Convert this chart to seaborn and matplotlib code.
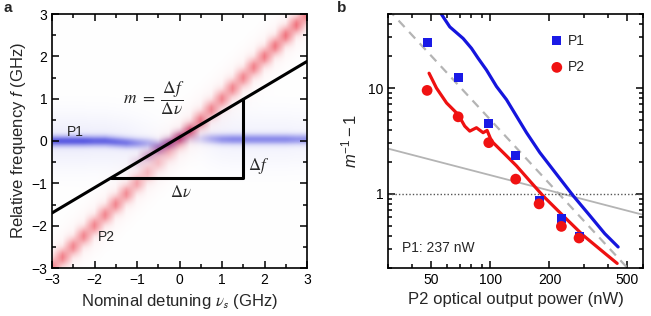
import numpy as np
import pandas as pd
import matplotlib
matplotlib.use('Agg')
import matplotlib.pyplot as plt
import seaborn as sns
from matplotlib.ticker import NullFormatter, FixedLocator, FuncFormatter

sns.set_theme(style='ticks')
plt.rcParams['font.family'] = ['Liberation Sans', 'DejaVu Sans']
plt.rcParams['font.size'] = 10
plt.rcParams['axes.linewidth'] = 1.2
plt.rcParams['mathtext.fontset'] = 'custom'
plt.rcParams['mathtext.rm'] = 'Liberation Sans'
plt.rcParams['mathtext.it'] = 'Liberation Sans:italic'
plt.rcParams['mathtext.bf'] = 'Liberation Sans:bold'

# ---- panel a: spectral map (peak positions / strengths per detuning column) ----
detuning = np.linspace(-3, 3, 25)   # GHz, 0.25 GHz steps
p1_peak = [0, 0, 0, 0, 0, 0, -0.02, -0.04, -0.05, -0.05, -0.08, -0.06, 0,
           0.05, 0.05, 0.05, 0.04, 0.04, 0.04, 0.04, 0.04, 0.04, 0.04, 0.04, 0.04]
p1_amp = [0.85, 0.85, 0.85, 0.85, 0.8, 0.8, 0.75, 0.7, 0.55, 0.4, 0.25, 0.12, 0.08,
          0.1, 0.2, 0.4, 0.55, 0.6, 0.6, 0.6, 0.6, 0.6, 0.6, 0.55, 0.55]
p2_amp = [0.7, 0.65, 0.62, 0.62, 0.62, 0.62, 0.62, 0.58, 0.45, 0.32, 0.28, 0.32, 0.42,
          0.55, 0.62, 0.62, 0.62, 0.62, 0.62, 0.65, 0.68, 0.7, 0.72, 0.72, 0.75]
lock_peak = [0, 0, 0, 0, 0, 0, 0, 0, -0.5, -0.35, -0.2, -0.05, 0.1,
             0.25, 0.4, 0, 0, 0, 0, 0, 0, 0, 0, 0, 0]
lock_amp = [0, 0, 0, 0, 0, 0, 0, 0, 0.15, 0.35, 0.5, 0.55, 0.5,
            0.3, 0.1, 0, 0, 0, 0, 0, 0, 0, 0, 0, 0]

fit_v = [-3, 3]
fit_f = [-1.7, 1.88]
tri_v = [-1.62, 1.5, 1.5]
tri_f = [-0.87, -0.87, 0.99]

# ---- panel b ----
p1_power = [47.7, 68.4, 98, 134.5, 177, 230, 283]
p1_m = [26.8, 12.7, 4.63, 2.29, 0.865, 0.583, 0.40]
p2_power = [47.5, 68.4, 98, 134.5, 177, 230, 283]
p2_m = [9.5, 5.35, 3.05, 1.38, 0.806, 0.494, 0.384]

blue_x = [56.2, 62.0, 72.5, 80.0, 86.5, 95.4, 107.3, 120.7, 135.8, 152.7, 178.5,
          217, 264, 321, 383, 448]
blue_y = [49.7, 37.8, 29.4, 23.7, 19.1, 14.8, 10.35, 7.77, 5.42, 3.79, 2.46,
          1.54, 0.964, 0.626, 0.422, 0.316]
red_x = [48.6, 53, 59.7, 68.4, 73.9, 78.4, 84.8, 91.7, 96.1, 101.2, 109.4, 120.7,
         135.8, 158.5, 185, 234, 297, 390, 443]
red_y = [13.8, 10.0, 7.23, 5.62, 4.37, 3.92, 4.22, 3.79, 3.98, 3.16, 2.74, 2.29,
         1.84, 1.33, 0.964, 0.626, 0.407, 0.268, 0.221]
dash_x = [30, 500]
dash_y = [55.6, 0.2]
gray_x = [30, 600]
gray_y = [2.68, 0.636]

fig = plt.figure(figsize=(6.51, 3.16), dpi=100)
ax_a = fig.add_axes([52 / 651, 48 / 316, 255 / 651, 254 / 316])
ax_b = fig.add_axes([388 / 651, 48 / 316, 255 / 651, 254 / 316])

# build the image: each column is one detuning step
f_grid = np.linspace(-3.2, 3.2, 321)


def line(center, width):
    return np.exp(-(f_grid - center) ** 2 / (2 * width ** 2))


blue = np.zeros((len(f_grid), len(detuning)))
red = np.zeros_like(blue)
for j, v in enumerate(detuning):
    blue[:, j] = (p1_amp[j] * line(p1_peak[j], 0.085)
                  + 0.12 * p1_amp[j] * line(p1_peak[j], 0.45)
                  + 0.6 * lock_amp[j] * line(lock_peak[j], 0.1))
    red[:, j] = (p2_amp[j] * line(v, 0.14)
                 + 0.08 * line(v, 0.4)
                 + 0.7 * lock_amp[j] * line(lock_peak[j], 0.1))

c_blue = np.array([0.33, 0.33, 0.88])
c_red = np.array([0.93, 0.33, 0.38])
rgb = 1 - blue[..., None] * (1 - c_blue) - red[..., None] * (1 - c_red)
rgb = np.clip(rgb, 0, 1)
ax_a.imshow(rgb, extent=[-3.125, 3.125, -3.2, 3.2], origin='lower',
            aspect='auto', interpolation='bilinear')

sns.lineplot(x=fit_v, y=fit_f, ax=ax_a, color='black', lw=2.2)
sns.lineplot(x=tri_v, y=tri_f, ax=ax_a, color='black', lw=2.2, sort=False,
             estimator=None)

ax_a.set_xlim(-3, 3)
ax_a.set_ylim(-3, 3)
ax_a.set_xticks(range(-3, 4))
ax_a.set_yticks(range(-3, 4))
ax_a.set_xticks(np.arange(-2.5, 3, 1), minor=True)
ax_a.set_yticks(np.arange(-2.5, 3, 1), minor=True)
ax_a.set_xlabel(r'Nominal detuning $\nu_{\mathsf{s}}$ (GHz)', math_fontfamily='stix')
ax_a.set_ylabel(r'Relative frequency $f$ (GHz)', labelpad=2)

ax_a.text(-2.65, 0.21, 'P1', ha='left', va='center', fontsize=10)
ax_a.text(-1.92, -2.26, 'P2', ha='left', va='center', fontsize=10)
ax_a.text(-0.6, 1.0, r'$m\ =\ \dfrac{\Delta f}{\Delta \nu}$', ha='center', va='center',
          fontsize=12.5, math_fontfamily='stix')
ax_a.text(1.62, -0.59, r'$\Delta f$', ha='left', va='center', fontsize=12,
          math_fontfamily='stix')
ax_a.text(0.02, -1.2, r'$\Delta \nu$', ha='center', va='center', fontsize=12,
          math_fontfamily='stix')

# ---- panel b ----
ax_b.set_xscale('log')
ax_b.set_yscale('log')
sns.lineplot(x=gray_x, y=gray_y, ax=ax_b, color='#b4b4b4', lw=1.3)
sns.lineplot(x=dash_x, y=dash_y, ax=ax_b, color='#b4b4b4', lw=1.6,
             linestyle=(0, (4, 3)))
ax_b.axhline(1, color='#555555', lw=1, linestyle=(0, (1, 1.5)))
sns.lineplot(x=blue_x, y=blue_y, ax=ax_b, color='#1515dd', lw=2.3, sort=False,
             estimator=None)
sns.lineplot(x=red_x, y=red_y, ax=ax_b, color='#ee1111', lw=2.3, sort=False,
             estimator=None)
sns.scatterplot(x=p1_power, y=p1_m, ax=ax_b, marker='s', color='#1a1ae6', s=42,
                edgecolor='none', label='P1', zorder=5)
sns.scatterplot(x=p2_power, y=p2_m, ax=ax_b, marker='o', color='#f01212', s=60,
                edgecolor='none', label='P2', zorder=6)

ax_b.set_xlim(30, 600)
ax_b.set_ylim(0.2, 50)
ax_b.xaxis.set_major_locator(FixedLocator([50, 100, 200, 500]))
ax_b.xaxis.set_minor_locator(FixedLocator([30, 40, 60, 70, 80, 90, 300, 400, 600]))
ax_b.xaxis.set_major_formatter(FuncFormatter(lambda x, p: f'{x:g}'))
ax_b.xaxis.set_minor_formatter(NullFormatter())
ax_b.yaxis.set_major_locator(FixedLocator([1, 10]))
ax_b.yaxis.set_minor_locator(FixedLocator([0.2, 0.3, 0.4, 0.5, 0.6, 0.7, 0.8, 0.9,
                                           2, 3, 4, 5, 6, 7, 8, 9, 20, 30, 40, 50]))
ax_b.yaxis.set_major_formatter(FuncFormatter(lambda x, p: f'{x:g}'))
ax_b.yaxis.set_minor_formatter(NullFormatter())
ax_b.set_xlabel('P2 optical output power (nW)')
ax_b.set_ylabel(r'$m^{-1} - 1$', labelpad=6)
ax_b.text(0.054, 0.079, 'P1: 237 nW', transform=ax_b.transAxes, ha='left',
          va='center', fontsize=10)
ax_b.legend(loc='upper left', bbox_to_anchor=(0.613, 0.945), frameon=False,
            handlelength=1.0, handletextpad=0.3, labelspacing=0.9,
            borderaxespad=0, fontsize=10)

for ax in (ax_a, ax_b):
    ax.tick_params(which='both', direction='in', top=True, right=True,
                   colors='black', labelsize=10)
    ax.tick_params(which='major', length=5, width=1.1)
    ax.tick_params(which='minor', length=3, width=1.1)
    for s in ax.spines.values():
        s.set_color('black')
        s.set_linewidth(1.2)

fig.text(3 / 651, 1 - 8 / 316, 'a', fontweight='bold', fontsize=11, va='center')
fig.text(337 / 651, 1 - 8 / 316, 'b', fontweight='bold', fontsize=11, va='center')

fig.savefig('out.png', dpi=100)
